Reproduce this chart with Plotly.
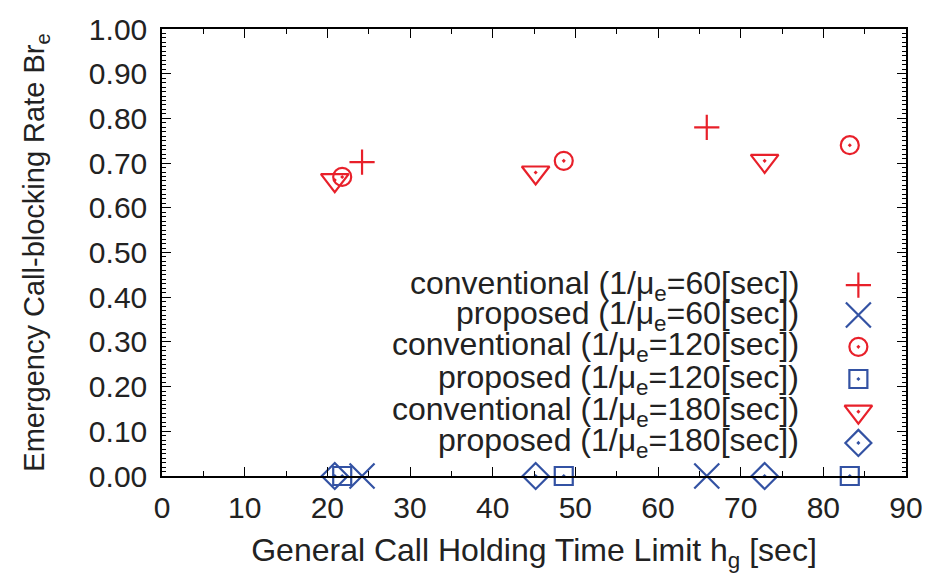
import plotly.graph_objects as go

# ---- data ----
x_c60 = [24.2, 65.9]
y_c60 = [0.702, 0.780]
x_p60 = [24.2, 65.9]
y_p60 = [0.0, 0.0]
x_c120 = [21.8, 48.6, 83.2]
y_c120 = [0.669, 0.705, 0.740]
x_p120 = [21.8, 48.6, 83.2]
y_p120 = [0.0, 0.0, 0.0]
x_c180 = [20.9, 45.2, 72.9]
y_c180 = [0.662, 0.679, 0.705]
x_p180 = [20.9, 45.2, 72.9]
y_p180 = [0.0, 0.0, 0.0]

labels = [
    "conventional (1/μ<sub>e</sub>=60[sec])",
    "proposed (1/μ<sub>e</sub>=60[sec])",
    "conventional (1/μ<sub>e</sub>=120[sec])",
    "proposed (1/μ<sub>e</sub>=120[sec])",
    "conventional (1/μ<sub>e</sub>=180[sec])",
    "proposed (1/μ<sub>e</sub>=180[sec])",
]

RED = "#e8202a"
BLUE = "#3352a3"
FONT = "Liberation Sans, Arial, sans-serif"
TXT = "#222"

series = [
    (x_c60, y_c60, "cross-thin-open", 18, RED),
    (x_p60, y_p60, "x-thin-open", 25, BLUE),
    (x_c120, y_c120, "circle-open-dot", 18, RED),
    (x_p120, y_p120, "square-open-dot", 18, BLUE),
    (x_c180, y_c180, "triangle-down-open-dot", 24, RED),
    (x_p180, y_p180, "diamond-open-dot", 20, BLUE),
]

fig = go.Figure()
for (xs, ys, sym, sz, col), name in zip(series, labels):
    fig.add_trace(go.Scatter(
        x=xs, y=ys, mode="markers", name=name, showlegend=False, cliponaxis=False,
        marker=dict(symbol=sym, size=sz, color=col, line=dict(color=col, width=2.2)),
    ))

# custom key (right-aligned text, sample on the right) on an overlay axis
key_y = [0.427, 0.360, 0.289, 0.217, 0.144, 0.074]
key_x = 0.936
for (xs, ys, sym, sz, col), name, ky in zip(series, labels, key_y):
    fig.add_trace(go.Scatter(
        x=[key_x], y=[ky], xaxis="x2", yaxis="y2", mode="markers", showlegend=False,
        cliponaxis=False,
        marker=dict(symbol=sym, size=sz, color=col, line=dict(color=col, width=2.2)),
    ))
    fig.add_annotation(
        x=0.859, y=ky, xref="paper", yref="paper", text=name, showarrow=False,
        xanchor="right", yanchor="middle", font=dict(family=FONT, size=32, color=TXT),
    )

axis_common = dict(
    showline=True, linecolor="black", linewidth=1.5, mirror="allticks",
    ticks="inside", tickcolor="black", tickwidth=1.2, showgrid=False, zeroline=False,
    tickfont=dict(family=FONT, size=30, color=TXT), automargin=False,
)

# page body adds an 8px offset, so the figure is 8px smaller and shifted
fig.update_layout(
    width=924, height=571,
    margin=dict(l=154, r=26, t=21, b=103),
    paper_bgcolor="white", plot_bgcolor="white",
    xaxis=dict(
        range=[0, 90], dtick=10, tick0=0, ticklen=9,
        minor=dict(dtick=5, ticklen=5, ticks="inside", tickcolor="black"),
        title=dict(text="General Call Holding Time Limit h<sub>g</sub> [sec]",
                   font=dict(family=FONT, size=32, color=TXT), standoff=16),
        ticklabelstandoff=4,
        **axis_common,
    ),
    yaxis=dict(
        range=[0, 1], dtick=0.1, tick0=0, tickformat=".2f", ticklen=9,
        minor=dict(dtick=0.01, ticklen=4, ticks="inside", tickcolor="black"),
        title=dict(text="Emergency Call-blocking Rate Br<sub>e</sub>",
                   font=dict(family=FONT, size=29, color=TXT), standoff=36),
        ticklabelstandoff=7,
        **axis_common,
    ),
    xaxis2=dict(range=[0, 1], overlaying="x", visible=False, domain=[0, 1]),
    yaxis2=dict(range=[0, 1], overlaying="y", visible=False, domain=[0, 1]),
)

fig.write_html("out.html")
